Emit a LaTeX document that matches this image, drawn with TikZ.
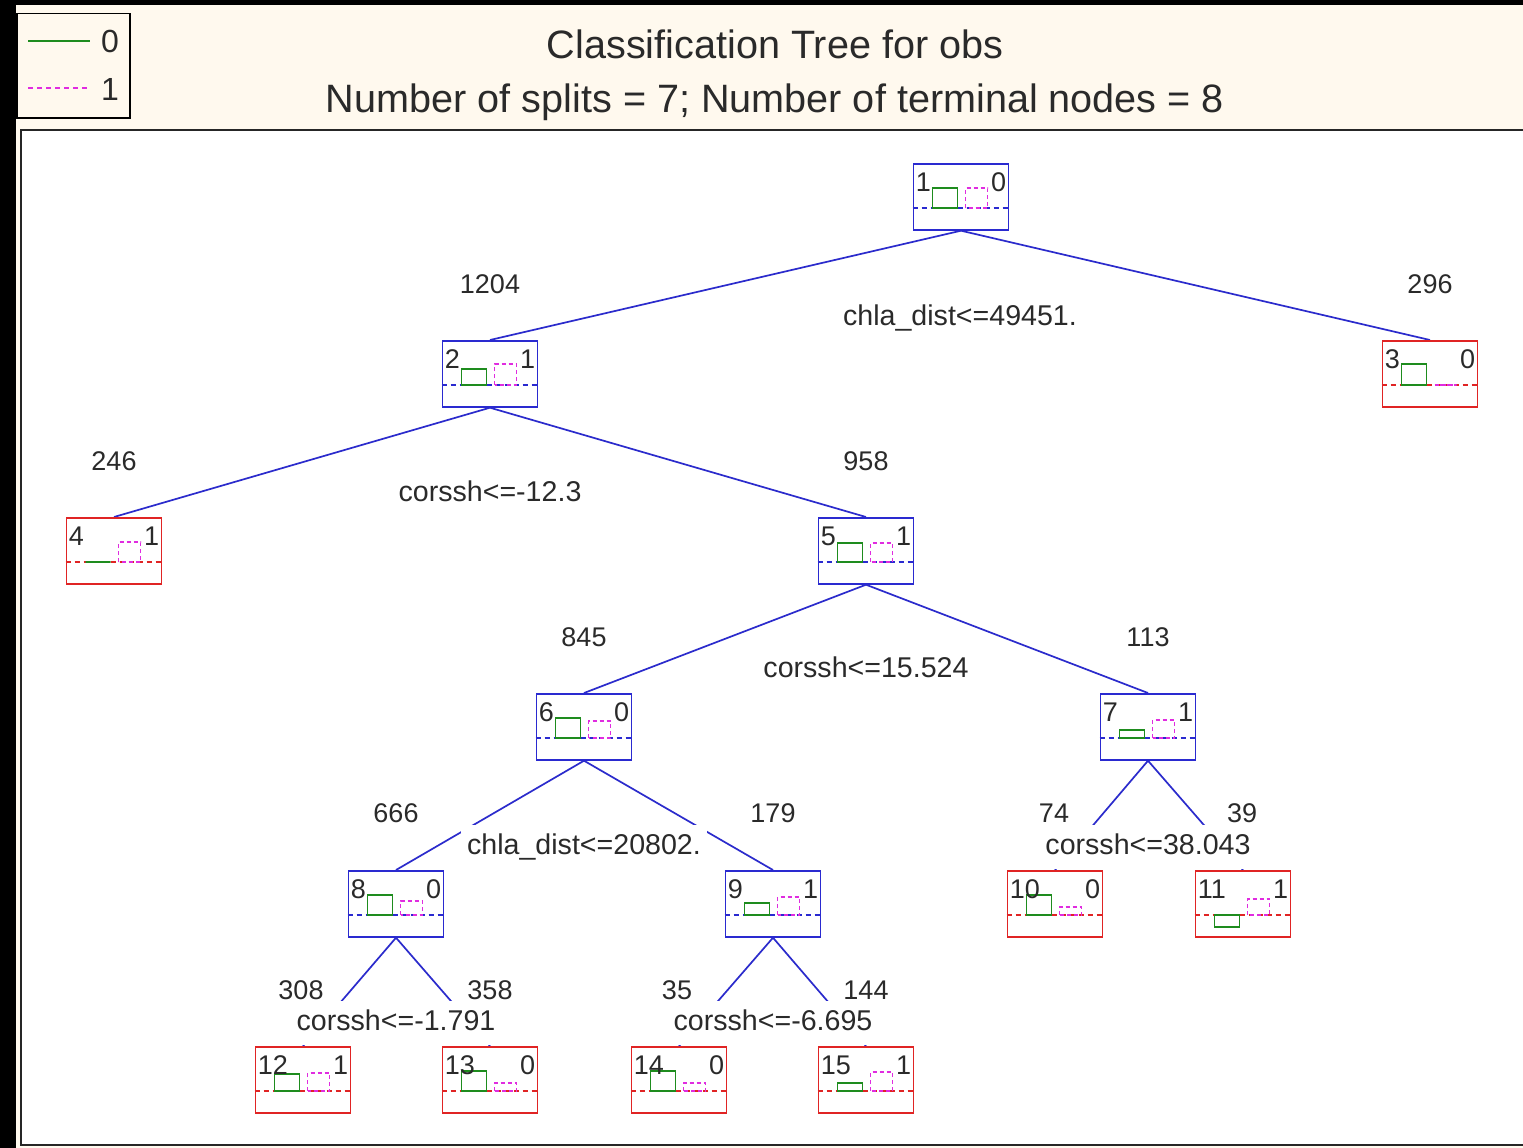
\documentclass[tikz,border=0pt]{standalone}
\usepackage{fontspec}
\setmainfont{Liberation Sans}
\usetikzlibrary{calc}
\definecolor{cream}{HTML}{FFF9EE}
\definecolor{edgeblue}{HTML}{2B2BCC}
\definecolor{boxblue}{HTML}{2A2AD0}
\definecolor{boxred}{HTML}{E02424}
\definecolor{grn}{HTML}{1E8C1E}
\definecolor{mag}{HTML}{E02CE0}
\definecolor{ink}{HTML}{2A2A2A}
\pgfdeclarelayer{bg}
\pgfdeclarelayer{edges}
\pgfsetlayers{bg,edges,main}
\newcommand\tnode[8]{%
  \node[tbox=#4] (#1) at (#2,#3) {};
  \draw[#4, line width=1.2pt, dash pattern=on 5pt off 4pt] ($(#1.north west)+(0,45)$) -- ($(#1.north east)+(0,45)$);
  \draw[grn, line width=1.6pt] ($(#1.north west)+(20,45)$) rectangle ++(25,{-(#7)});
  \draw[mag, line width=1.6pt, dash pattern=on 4pt off 3pt] ($(#1.north west)+(53,45)$) rectangle ++(22,{-(#8)});
  \node[idtxt, anchor=base west] at ($(#1.north west)+(3,28)$) {#5};
  \node[idtxt, anchor=base east] at ($(#1.north east)+(-3,28)$) {#6};
}
\begin{document}
\begin{tikzpicture}[x=1pt,y=-1pt,
  edge/.style={draw=edgeblue, line width=1.7pt},
  lab/.style={fill=white, text=ink, font=\fontsize{27}{30}\selectfont, inner xsep=6pt, inner ysep=9pt, text height=20pt, text depth=6pt},
  cond/.style={lab, font=\fontsize{28.6}{30}\selectfont},
  tbox/.style={draw=#1, line width=1.7pt, minimum width=95pt, minimum height=66pt, inner sep=0pt, anchor=north, fill=white},
  idtxt/.style={text=ink, font=\fontsize{27}{30}\selectfont, inner sep=0pt},
  ttl/.style={text=ink, font=\fontsize{39.6}{42}\selectfont, inner sep=0pt, anchor=base},
  ]
\useasboundingbox (0,0) rectangle (1523,1148);
\begin{pgfonlayer}{bg}
  \fill[black] (0,0) rectangle (1523,1148);
  \fill[cream] (16,5) rectangle (1523,1148);
  \begin{scope}
    \clip (0,0) rectangle (1523,1148);
    \draw[fill=white, draw=black!85, line width=2pt] (21,130) rectangle (1540,1145);
  \end{scope}
\end{pgfonlayer}
% legend
\node[draw=black, line width=1.5pt, fill=cream, minimum width=113pt, minimum height=104pt, inner sep=0pt, anchor=north west] (legend) at (16,13) {};
\coordinate (lg0a) at (28,41);
\coordinate (lg0b) at (90,41);
\coordinate (lg1a) at (28,88);
\coordinate (lg1b) at (90,88);
\draw[grn, line width=1.3pt] (lg0a) -- (lg0b);
\draw[mag, line width=1.3pt, dash pattern=on 5pt off 4pt] (lg1a) -- (lg1b);
\node[text=ink, font=\fontsize{32}{34}\selectfont, inner sep=0pt] (leg0) at (110,41) {0};
\node[text=ink, font=\fontsize{32}{34}\selectfont, inner sep=0pt] (leg1) at (110,89) {1};
% title
\node[ttl] (t1) at (775,59) {Classification Tree for obs};
\node[ttl] (t2) at (775,112) {Number of splits = 7; Number of terminal nodes = 8};
% tree nodes
\tnode{n1}{961}{163}{boxblue}{1}{0}{20}{20}
\tnode{n2}{490}{340}{boxblue}{2}{1}{16}{21}
\tnode{n3}{1430}{340}{boxred}{3}{0}{21}{0}
\tnode{n4}{114}{517}{boxred}{4}{1}{0}{20}
\tnode{n5}{866}{517}{boxblue}{5}{1}{19}{19}
\tnode{n6}{584}{693}{boxblue}{6}{0}{20}{17}
\tnode{n7}{1148}{693}{boxblue}{7}{1}{8}{18}
\tnode{n8}{396}{870}{boxblue}{8}{0}{20}{14}
\tnode{n9}{773}{870}{boxblue}{9}{1}{12}{18}
\tnode{n10}{1055}{870}{boxred}{10}{0}{20}{8}
\tnode{n11}{1243}{870}{boxred}{11}{1}{-12}{16}
\tnode{n12}{303}{1046}{boxred}{12}{1}{17}{18}
\tnode{n13}{490}{1046}{boxred}{13}{0}{20}{8}
\tnode{n14}{679}{1046}{boxred}{14}{0}{20}{8}
\tnode{n15}{866}{1046}{boxred}{15}{1}{8}{19}
% edges
\begin{pgfonlayer}{edges}
  \draw[edge] (n1.south) -- (n2.north);
  \draw[edge] (n1.south) -- (n3.north);
  \draw[edge] (n2.south) -- (n4.north);
  \draw[edge] (n2.south) -- (n5.north);
  \draw[edge] (n5.south) -- (n6.north);
  \draw[edge] (n5.south) -- (n7.north);
  \draw[edge] (n6.south) -- (n8.north);
  \draw[edge] (n6.south) -- (n9.north);
  \draw[edge] (n7.south) -- (n10.north);
  \draw[edge] (n7.south) -- (n11.north);
  \draw[edge] (n8.south) -- (n12.north);
  \draw[edge] (n8.south) -- (n13.north);
  \draw[edge] (n9.south) -- (n14.north);
  \draw[edge] (n9.south) -- (n15.north);
\end{pgfonlayer}
% edge labels
\node[lab] (c2) at (490,286) {1204};
\node[lab] (c3) at (1430,286) {296};
\node[cond] (s1) at (960,318) {chla\_dist<=49451.};
\node[lab] (c4) at (114,463) {246};
\node[lab] (c5) at (866,463) {958};
\node[cond] (s2) at (490,494) {corssh<=-12.3};
\node[lab] (c6) at (584,639) {845};
\node[lab] (c7) at (1148,639) {113};
\node[cond] (s5) at (866,670) {corssh<=15.524};
\node[lab] (c8) at (396,815) {666};
\node[lab] (c9) at (773,815) {179};
\node[cond] (s6) at (584,847) {chla\_dist<=20802.};
\node[lab] (c10) at (1054,815) {74};
\node[lab] (c11) at (1242,815) {39};
\node[cond] (s7) at (1148,847) {corssh<=38.043};
\node[lab] (c12) at (301,992) {308};
\node[lab] (c13) at (490,992) {358};
\node[cond] (s8) at (396,1023) {corssh<=-1.791};
\node[lab] (c14) at (677,992) {35};
\node[lab] (c15) at (866,992) {144};
\node[cond] (s9) at (773,1023) {corssh<=-6.695};
\end{tikzpicture}
\end{document}
